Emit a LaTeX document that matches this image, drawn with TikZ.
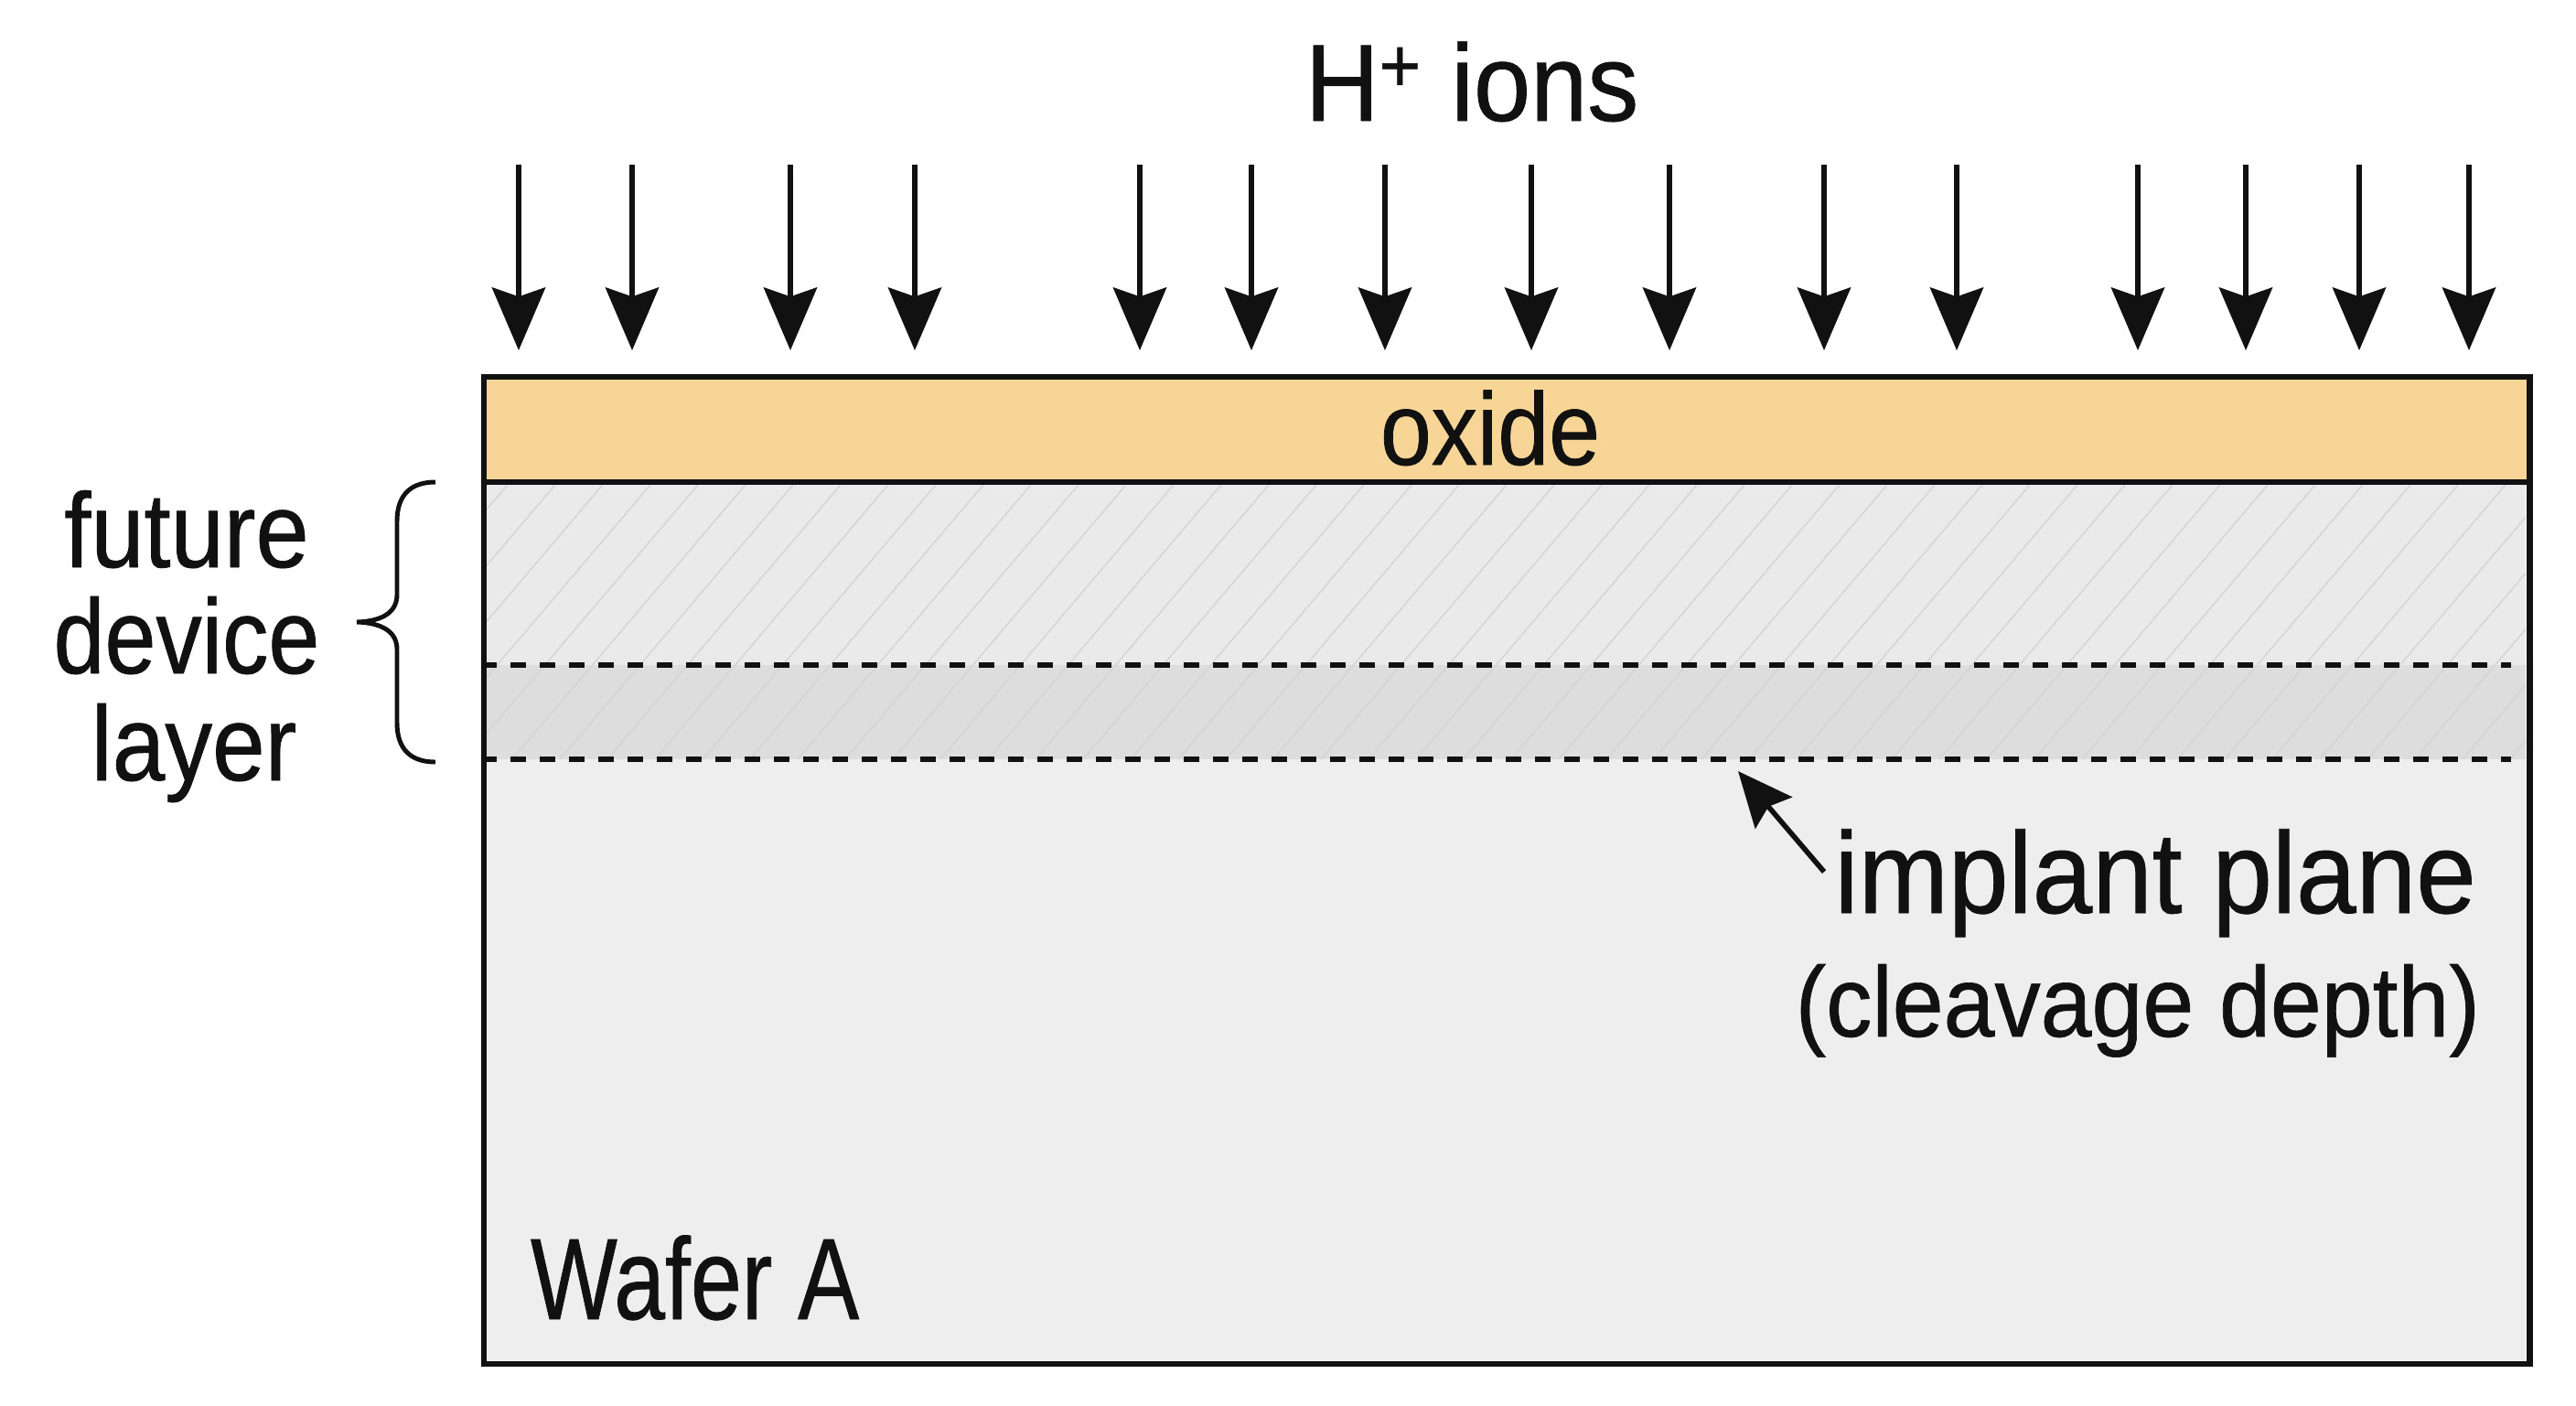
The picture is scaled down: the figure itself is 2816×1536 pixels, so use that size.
\documentclass[tikz,border=0pt]{standalone}
\usepackage{fontspec}
\setmainfont{Liberation Sans}[FakeStretch=0.85,FakeBold=0.6]
\usetikzlibrary{arrows.meta}
\definecolor{oxidefill}{RGB}{247,213,150}
\definecolor{waferfill}{RGB}{238,238,238}
\definecolor{devfill}{RGB}{234,234,234}
\definecolor{bandfill}{RGB}{221,221,221}
\definecolor{hatchcol}{RGB}{212,212,212}
\definecolor{ink}{RGB}{17,17,17}
\tikzset{
  ionarrow/.style={draw=ink, line width=1.7pt, -{Stealth[length=19.5pt,width=16.5pt,inset=2.8pt]}},
  ptarrow/.style={draw=ink, line width=1.6pt, -{Stealth[length=17pt,width=15pt,inset=2.5pt]}},
  border/.style={draw=ink, line width=1.8pt},
  cutline/.style={draw=ink, line width=1.6pt, dash pattern=on 4.8pt off 4.3pt},
  hatchline/.style={draw=hatchcol, line width=0.4pt},
  lbl/.style={text=ink, inner sep=0pt, outer sep=0pt}
}
\begin{document}
\begin{tikzpicture}[x=0.01cm,y=-0.01cm]
\useasboundingbox (0,0) rectangle (2816,1536);
\fill[white] (0,0) rectangle (2816,1536);

% wafer body
\fill[waferfill] (526,524) rectangle (2761,1487);
\fill[devfill] (526,524) rectangle (2761,727);
\fill[bandfill] (526,727) rectangle (2761,830);
\begin{scope}
  \clip (526,524) rectangle (2761,830);
  \foreach \x in {300,352,...,2900} {
    \draw[hatchline] (\x,830) -- ++(260,-306);
  }
\end{scope}
\coordinate (c1l) at (526,727);
\coordinate (c1r) at (2745,727);
\coordinate (c2l) at (526,830);
\coordinate (c2r) at (2745,830);
\draw[cutline] (c1l) -- (c1r);
\draw[cutline] (c2l) -- (c2r);

\node[border, minimum width=22.35cm, minimum height=10.78cm, anchor=north west, inner sep=0pt] (wafer) at (526,409) {};
\node[border, fill=oxidefill, minimum width=22.35cm, minimum height=1.15cm, anchor=north west, inner sep=0pt] (oxide) at (526,409) {};

% labels
\node[lbl, font=\fontsize{32}{36}\selectfont, anchor=base] (oxtxt) at (1629,508) {\scalebox{1.05}[1]{oxide}};
\node[lbl, font=\fontsize{34}{38}\selectfont, anchor=base] (ions) at (1609,132) {\scalebox{1.10}[1]{H\textsuperscript{+} ions}};
\node[lbl, font=\fontsize{36}{40}\selectfont, anchor=base west] (wafA) at (580,1442) {\scalebox{0.934}[1]{Wafer A}};
\node[lbl, font=\fontsize{33}{37}\selectfont, anchor=base] (fdl1) at (204,620) {\scalebox{1.06}[1]{future}};
\node[lbl, font=\fontsize{33}{37}\selectfont, anchor=base] (fdl2) at (204,736) {\scalebox{1.02}[1]{device}};
\node[lbl, font=\fontsize{33}{37}\selectfont, anchor=base] (fdl3) at (212,853) {\scalebox{1.05}[1]{layer}};
\node[lbl, font=\fontsize{36}{40}\selectfont, anchor=base east] (ipl) at (2707,998) {\scalebox{1.096}[1]{implant plane}};
\node[lbl, font=\fontsize{31}{35}\selectfont, anchor=base east] (cdp) at (2711,1133) {\scalebox{1.084}[1]{(cleavage depth)}};

% implant plane arrow
\coordinate (ptail) at (1994,953);
\coordinate (ptip) at (1900,843);
\draw[ptarrow] (ptail) -- (ptip);

% brace
\draw[draw=ink, line width=1.4pt] (476,527) .. controls (450,527) and (434,540) .. (434,570) -- (434,650) .. controls (434,668) and (420,679) .. (390,680) .. controls (420,681) and (434,692) .. (434,710) -- (434,790) .. controls (434,820) and (450,833) .. (476,833);

% ion arrows
\foreach \x [count=\i] in {567,691,864,1000,1246,1368,1514,1674,1825,1994,2139,2337,2455,2579,2699} {
  \coordinate (a\i) at (\x,180);
  \coordinate (b\i) at (\x,383);
  \draw[ionarrow] (a\i) -- (b\i);
}
\end{tikzpicture}
\end{document}
